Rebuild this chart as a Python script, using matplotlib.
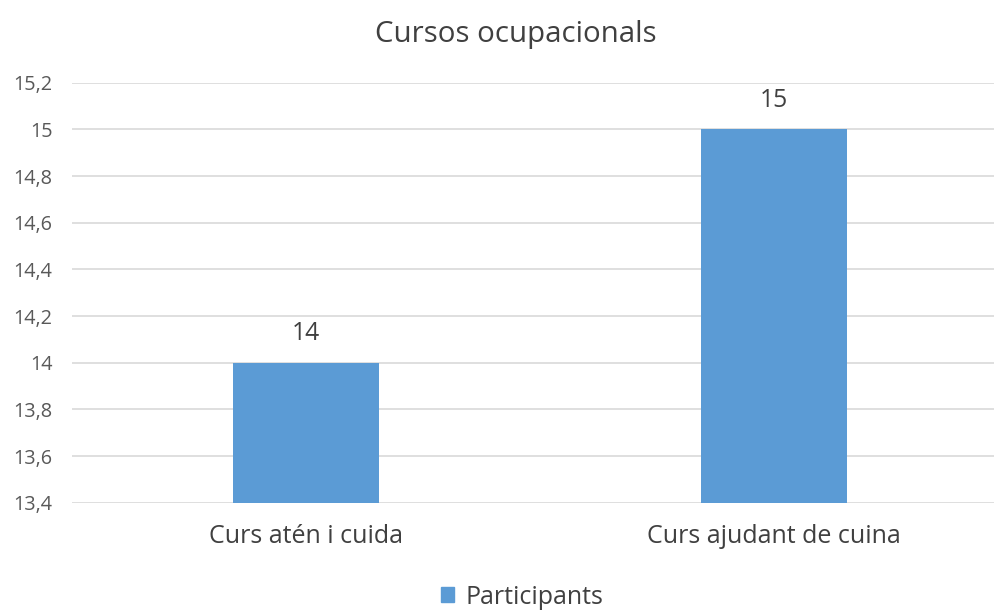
import matplotlib.pyplot as plt
import matplotlib
import numpy as np
matplotlib.use('agg')

categories = ["Curs atén i cuida", "Curs ajudant de cuina"]
participants = [14, 15]
series_name = "Participants"
title = "Cursos ocupacionals"
y_ticks = [13.4, 13.6, 13.8, 14.0, 14.2, 14.4, 14.6, 14.8, 15.0, 15.2]

bar_color = '#5B9BD5'
text_color = '#595959'
grid_color = '#D9D9D9'

plt.rcParams['font.family'] = ['Open Sans', 'DejaVu Sans']


def fmt(v):
    s = f"{v:.1f}".replace('.', ',')
    return s[:-2] if s.endswith(',0') else s


fig = plt.figure(figsize=(9.95, 6.10), dpi=100)
# the original chart was a bit wider than the picture, so the plot area runs off the right edge
ax = fig.add_axes([72 / 995, 1 - 502.7 / 610, 936 / 995, 420 / 610])

x = np.arange(len(categories))
bars = ax.bar(x, participants, width=0.314, color=bar_color, zorder=3)
ax.bar_label(bars, labels=[str(v) for v in participants], padding=12,
             fontsize=17.8, color='#404040')

ax.set_xlim(-0.5, len(categories) - 0.5)
ax.set_ylim(y_ticks[0], y_ticks[-1])
ax.set_yticks(y_ticks)
ax.set_yticklabels([fmt(v) for v in y_ticks], fontsize=14.3, color=text_color)
ax.set_xticks(x)
ax.set_xticklabels(categories, fontsize=18, color='#404040')
ax.tick_params(axis='y', length=0, pad=14)
ax.tick_params(axis='x', length=0, pad=15)
ax.yaxis.grid(True, color=grid_color, linewidth=1.2, zorder=0)
ax.set_axisbelow(True)
for s in ax.spines.values():
    s.set_visible(False)

fig.text(515.5 / 995, 1 - 42 / 610, title, ha='center', va='baseline',
         fontsize=21.2, color='#404040')

handle = plt.Rectangle((0, 0), 1, 1, color=bar_color)
fig.legend([handle], [series_name], loc='center', bbox_to_anchor=(522 / 995, 1 - 597 / 610),
           frameon=False, fontsize=18, labelcolor='#404040', handlelength=0.55,
           handleheight=0.55, handletextpad=0.45)

plt.savefig('out.png', dpi=100)
